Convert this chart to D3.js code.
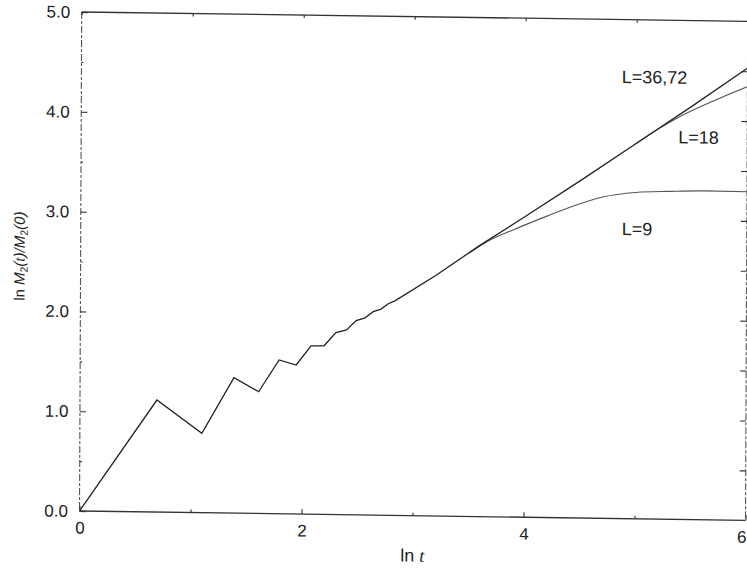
<!DOCTYPE html>
<html>
<head>
<meta charset="utf-8">
<script src="https://cdn.jsdelivr.net/npm/d3@7"></script>
<style>
  html, body { margin: 0; padding: 0; background: #fff; }
  svg { display: block; }
  text { font-family: "Liberation Sans", Arial, Helvetica, sans-serif; fill: #222; }
</style>
</head>
<body>
<svg id="chart" width="747" height="568"></svg>
<script>
// ln t values and ln M2(t)/M2(0) for the largest systems (L=36,72)
const lnT36 = [0, 0.693, 1.099, 1.386, 1.609, 1.792, 1.946, 2.079, 2.197, 2.303,
               2.398, 2.485, 2.565, 2.639, 2.708, 2.773, 2.833,
               3.2, 3.6, 4.0, 4.5, 5.0, 5.5, 6.0];
const m36   = [0, 1.123, 0.796, 1.358, 1.220, 1.541, 1.493, 1.686, 1.690, 1.823,
               1.851, 1.946, 1.975, 2.04, 2.065, 2.12, 2.15,
               2.41, 2.72, 3.01, 3.38, 3.76, 4.14, 4.53];

// L=18 branches off the common curve near ln t = 5.2
const lnT18 = [5.0, 5.2, 5.4, 5.6, 5.8, 6.0];
const m18   = [3.76, 3.91, 4.04, 4.15, 4.25, 4.345];

// L=9 saturates after ln t ~ 3.6
const lnT9 = [3.5, 3.7, 3.9, 4.2, 4.45, 4.7, 5.0, 5.3, 5.6, 6.0];
const m9   = [2.64, 2.78, 2.88, 3.02, 3.13, 3.22, 3.27, 3.285, 3.295, 3.293];

// axis ticks
const xMajorTicks = [0, 2, 4, 6];
const xMinorTicks = [1, 3, 5];
const yMajorTicks = [0, 1, 2, 3, 4, 5];
const yMinorTicks = [0.5, 1.5, 2.5, 3.5, 4.5];
const rightTicks  = [0.5, 1, 1.5, 2, 2.5, 3, 3.5, 4, 4.5];

// curve labels: [text, ln t, value at baseline]
const curveLabels = [
  ["L=36,72", 4.868, 4.365],
  ["L=18",    5.379, 3.768],
  ["L=9",     4.873, 2.842]
];

const svg = d3.select("#chart");

const plotLeft = 79.5, plotRight = 745.5, plotTop = 12, plotBottom = 511;
const x = d3.scaleLinear().domain([0, 6]).range([plotLeft, plotRight]);
const y = d3.scaleLinear().domain([0, 5]).range([plotBottom, plotTop]);

// the printed page sits slightly askew
const skX = -0.0044, skY = 0.014;
const g = svg.append("g")
  .attr("transform", `matrix(1,${skY},${skX},1,${-skX * plotBottom},${-skY * plotLeft})`);

// frame
const frame = g.append("g").attr("fill", "none");
frame.append("line").attr("x1", plotLeft).attr("x2", plotRight).attr("y1", plotTop).attr("y2", plotTop)
  .attr("stroke", "#333").attr("stroke-width", 1.3);
frame.append("line").attr("x1", plotLeft).attr("x2", plotRight).attr("y1", plotBottom).attr("y2", plotBottom)
  .attr("stroke", "#333").attr("stroke-width", 1.3);
frame.append("line").attr("x1", plotLeft).attr("x2", plotLeft).attr("y1", plotTop).attr("y2", plotBottom)
  .attr("stroke", "#555").attr("stroke-width", 1.1).attr("stroke-dasharray", "7,2,3,2");
frame.append("line").attr("x1", plotRight).attr("x2", plotRight).attr("y1", plotTop).attr("y2", plotBottom)
  .attr("stroke", "#555").attr("stroke-width", 1.1).attr("stroke-dasharray", "7,2,3,2");

function styleAxis(sel, fontSize) {
  sel.select(".domain").remove();
  sel.selectAll(".tick line").attr("stroke", "#333").attr("stroke-width", 1.1);
  sel.selectAll(".tick text")
    .attr("font-family", '"Liberation Sans", Arial, sans-serif')
    .attr("font-size", fontSize).attr("fill", "#222");
}

// bottom axis
const xAxisG = g.append("g").attr("transform", `translate(0,${plotBottom})`)
  .call(d3.axisBottom(x).tickValues(xMajorTicks).tickFormat(d3.format("d"))
    .tickSize(-5).tickSizeOuter(0).tickPadding(10.5))
  .call(s => styleAxis(s, 17));
// the last label sits flush against the right edge of the page
xAxisG.selectAll(".tick text").filter(d => d === 6)
  .attr("text-anchor", "end").attr("dx", 0.5);
g.append("g").attr("transform", `translate(0,${plotBottom})`)
  .call(d3.axisBottom(x).tickValues(xMinorTicks).tickFormat("").tickSize(-3).tickSizeOuter(0))
  .call(s => styleAxis(s, 17));

// top axis
g.append("g").attr("transform", `translate(0,${plotTop})`)
  .call(d3.axisTop(x).tickValues(xMajorTicks.concat(xMinorTicks)).tickFormat("").tickSize(-3).tickSizeOuter(0))
  .call(s => styleAxis(s, 17));

// left axis
g.append("g").attr("transform", `translate(${plotLeft},0)`)
  .call(d3.axisLeft(y).tickValues(yMajorTicks).tickFormat(d3.format(".1f"))
    .tickSize(-6).tickSizeOuter(0).tickPadding(11.5))
  .call(s => styleAxis(s, 17));
g.append("g").attr("transform", `translate(${plotLeft},0)`)
  .call(d3.axisLeft(y).tickValues(yMinorTicks).tickFormat("").tickSize(-2).tickSizeOuter(0))
  .call(s => styleAxis(s, 17));

// right axis
g.append("g").attr("transform", `translate(${plotRight},0)`)
  .call(d3.axisRight(y).tickValues(rightTicks).tickFormat("").tickSize(-6).tickSizeOuter(0))
  .call(s => styleAxis(s, 17));

// curves
const lineLin = d3.line().x(d => x(d[0])).y(d => y(d[1]));
const lineSmooth = d3.line().x(d => x(d[0])).y(d => y(d[1])).curve(d3.curveMonotoneX);

g.append("path").datum(d3.zip(lnT9, m9))
  .attr("d", lineSmooth).attr("fill", "none")
  .attr("stroke", "#555").attr("stroke-width", 1.1);
g.append("path").datum(d3.zip(lnT18, m18))
  .attr("d", lineSmooth).attr("fill", "none")
  .attr("stroke", "#555").attr("stroke-width", 1.1);
g.append("path").datum(d3.zip(lnT36, m36))
  .attr("d", lineLin).attr("fill", "none")
  .attr("stroke", "#222").attr("stroke-width", 1.3).attr("stroke-linejoin", "miter");

// curve labels
g.selectAll("text.curve-label").data(curveLabels).join("text")
  .attr("class", "curve-label")
  .attr("x", d => x(d[1])).attr("y", d => y(d[2]))
  .attr("font-size", 18)
  .text(d => d[0]);

// x axis title: ln t
const xt = g.append("text")
  .attr("x", x(3)).attr("y", plotBottom + 46)
  .attr("text-anchor", "middle").attr("font-size", 18);
xt.append("tspan").text("ln ");
xt.append("tspan").attr("font-family", '"Liberation Serif", "Times New Roman", serif')
  .attr("font-style", "italic").text("t");

// y axis title: ln M2(t)/M2(0)
const yt = g.append("text")
  .attr("transform", `translate(${plotLeft - 56},${(plotTop + plotBottom) / 2 - 4.5}) rotate(-90)`)
  .attr("text-anchor", "middle").attr("font-size", 15);
yt.append("tspan").text("ln ");
yt.append("tspan").attr("font-style", "italic").text("M");
yt.append("tspan").attr("font-size", 10.5).attr("dy", 3).text("2");
yt.append("tspan").attr("dy", -3).attr("font-style", "italic").text("(");
yt.append("tspan").attr("font-family", '"Liberation Serif", serif').attr("font-style", "italic").text("t");
yt.append("tspan").attr("font-style", "italic").text(")/M");
yt.append("tspan").attr("font-size", 10.5).attr("dy", 3).text("2");
yt.append("tspan").attr("dy", -3).attr("font-style", "italic").text("(0)");
</script>
</body>
</html>
